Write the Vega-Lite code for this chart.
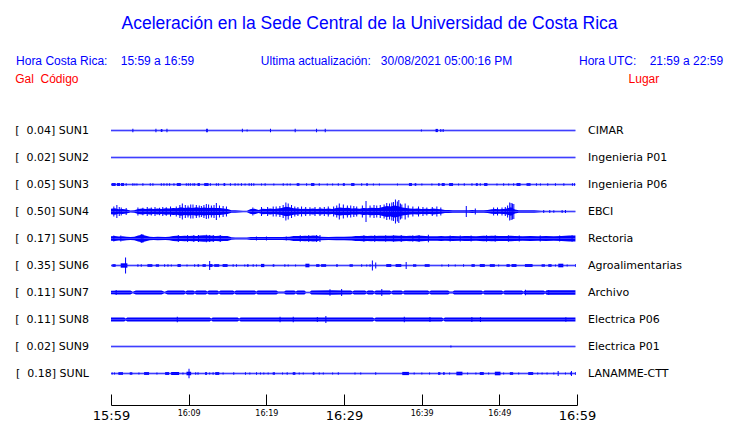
{
"$schema": "https://vega.github.io/schema/vega-lite/v6.json",
"background": "white",
"padding": {"left": 15, "top": 14, "right": 5, "bottom": 2},
"title": {
  "text": "Aceleración en la Sede Central de la Universidad de Costa Rica",
  "subtitle": "Hora Costa Rica:\u00a0\u00a0\u00a0\u00a015:59 a 16:59\u00a0\u00a0\u00a0\u00a0\u00a0\u00a0\u00a0\u00a0\u00a0\u00a0\u00a0\u00a0\u00a0\u00a0\u00a0\u00a0\u00a0\u00a0\u00a0\u00a0Ultima actualización:\u00a0\u00a0\u00a030/08/2021 05:00:16 PM\u00a0\u00a0\u00a0\u00a0\u00a0\u00a0\u00a0\u00a0\u00a0\u00a0\u00a0\u00a0\u00a0\u00a0\u00a0\u00a0\u00a0\u00a0\u00a0\u00a0Hora UTC:\u00a0\u00a0\u00a0\u00a021:59 a 22:59",
  "font": "Liberation Sans", "fontSize": 17.5, "fontWeight": "normal", "color": "#0000ff",
  "subtitleFont": "Liberation Sans", "subtitleFontSize": 12, "subtitleColor": "#0000ff",
  "subtitlePadding": 24, "anchor": "middle", "offset": 6, "dx": 21
},
"data": {"values": [
{"k":"n","s":"SUN1","l":"CIMAR"},{"k":"n","s":"SUN2","l":"Ingenieria P01"},{"k":"n","s":"SUN3","l":"Ingenieria P06"},{"k":"n","s":"SUN4","l":"EBCI"},{"k":"n","s":"SUN5","l":"Rectoria"},{"k":"n","s":"SUN6","l":"Agroalimentarias"},{"k":"n","s":"SUN7","l":"Archivo"},{"k":"n","s":"SUN8","l":"Electrica P06"},{"k":"n","s":"SUN9","l":"Electrica P01"},{"k":"n","s":"SUNL","l":"LANAMME-CTT"},
{"k":"e","s":"SUN1","t":0,"a":0.7},{"k":"e","s":"SUN1","t":59.8,"a":0.7},
{"k":"e","s":"SUN2","t":0,"a":0.7},{"k":"e","s":"SUN2","t":59.8,"a":0.7},
{"k":"e","s":"SUN3","t":0,"a":0.7},{"k":"e","s":"SUN3","t":59.8,"a":0.7},
{"k":"e","s":"SUN6","t":0,"a":0.7},{"k":"e","s":"SUN6","t":59.8,"a":0.7},
{"k":"e","s":"SUN9","t":0,"a":0.7},{"k":"e","s":"SUN9","t":59.8,"a":0.7},
{"k":"e","s":"SUNL","t":0,"a":0.7},{"k":"e","s":"SUNL","t":59.8,"a":0.7},
{"k":"e","s":"SUN4","t":0,"a":2.8},{"k":"e","s":"SUN4","t":0.5,"a":3.2},{"k":"e","s":"SUN4","t":1,"a":2.2},{"k":"e","s":"SUN4","t":1.5,"a":2.6},{"k":"e","s":"SUN4","t":2,"a":2.0},{"k":"e","s":"SUN4","t":2.5,"a":1.0},{"k":"e","s":"SUN4","t":3,"a":1.2},{"k":"e","s":"SUN4","t":3.5,"a":2.6},{"k":"e","s":"SUN4","t":4,"a":3.0},{"k":"e","s":"SUN4","t":4.5,"a":2.4},{"k":"e","s":"SUN4","t":5,"a":3.0},{"k":"e","s":"SUN4","t":5.5,"a":2.6},{"k":"e","s":"SUN4","t":6,"a":3.1},{"k":"e","s":"SUN4","t":6.5,"a":2.5},{"k":"e","s":"SUN4","t":7,"a":3.2},{"k":"e","s":"SUN4","t":7.5,"a":3.0},{"k":"e","s":"SUN4","t":8,"a":3.6},{"k":"e","s":"SUN4","t":8.5,"a":3.2},{"k":"e","s":"SUN4","t":9,"a":4.2},{"k":"e","s":"SUN4","t":9.5,"a":3.5},{"k":"e","s":"SUN4","t":10,"a":4.0},{"k":"e","s":"SUN4","t":10.5,"a":3.6},{"k":"e","s":"SUN4","t":11,"a":4.2},{"k":"e","s":"SUN4","t":11.5,"a":3.4},{"k":"e","s":"SUN4","t":12,"a":4.0},{"k":"e","s":"SUN4","t":12.5,"a":3.5},{"k":"e","s":"SUN4","t":13,"a":3.8},{"k":"e","s":"SUN4","t":13.5,"a":3.4},{"k":"e","s":"SUN4","t":14,"a":3.6},{"k":"e","s":"SUN4","t":14.5,"a":3.0},{"k":"e","s":"SUN4","t":15,"a":2.6},{"k":"e","s":"SUN4","t":15.5,"a":1.3},{"k":"e","s":"SUN4","t":16,"a":1.2},{"k":"e","s":"SUN4","t":16.5,"a":1.0},{"k":"e","s":"SUN4","t":17,"a":0.8},{"k":"e","s":"SUN4","t":17.5,"a":0.8},{"k":"e","s":"SUN4","t":18,"a":2.6},{"k":"e","s":"SUN4","t":18.5,"a":2.8},{"k":"e","s":"SUN4","t":19,"a":1.6},{"k":"e","s":"SUN4","t":19.5,"a":2.8},{"k":"e","s":"SUN4","t":20,"a":2.4},{"k":"e","s":"SUN4","t":20.5,"a":3.0},{"k":"e","s":"SUN4","t":21,"a":2.6},{"k":"e","s":"SUN4","t":21.5,"a":3.0},{"k":"e","s":"SUN4","t":22,"a":3.6},{"k":"e","s":"SUN4","t":22.5,"a":4.8},{"k":"e","s":"SUN4","t":23,"a":4.2},{"k":"e","s":"SUN4","t":23.5,"a":3.2},{"k":"e","s":"SUN4","t":24,"a":3.0},{"k":"e","s":"SUN4","t":24.5,"a":2.6},{"k":"e","s":"SUN4","t":25,"a":2.8},{"k":"e","s":"SUN4","t":25.5,"a":2.4},{"k":"e","s":"SUN4","t":26,"a":3.0},{"k":"e","s":"SUN4","t":26.5,"a":2.6},{"k":"e","s":"SUN4","t":27,"a":3.0},{"k":"e","s":"SUN4","t":27.5,"a":2.5},{"k":"e","s":"SUN4","t":28,"a":3.0},{"k":"e","s":"SUN4","t":28.5,"a":2.6},{"k":"e","s":"SUN4","t":29,"a":3.4},{"k":"e","s":"SUN4","t":29.5,"a":4.0},{"k":"e","s":"SUN4","t":30,"a":3.6},{"k":"e","s":"SUN4","t":30.5,"a":3.8},{"k":"e","s":"SUN4","t":31,"a":3.0},{"k":"e","s":"SUN4","t":31.5,"a":3.2},{"k":"e","s":"SUN4","t":32,"a":2.8},{"k":"e","s":"SUN4","t":32.5,"a":3.6},{"k":"e","s":"SUN4","t":33,"a":3.2},{"k":"e","s":"SUN4","t":33.5,"a":3.8},{"k":"e","s":"SUN4","t":34,"a":3.4},{"k":"e","s":"SUN4","t":34.5,"a":3.6},{"k":"e","s":"SUN4","t":35,"a":4.4},{"k":"e","s":"SUN4","t":35.5,"a":5.4},{"k":"e","s":"SUN4","t":36,"a":5.0},{"k":"e","s":"SUN4","t":36.5,"a":6.0},{"k":"e","s":"SUN4","t":37,"a":5.2},{"k":"e","s":"SUN4","t":37.5,"a":4.0},{"k":"e","s":"SUN4","t":38,"a":3.6},{"k":"e","s":"SUN4","t":38.5,"a":3.0},{"k":"e","s":"SUN4","t":39,"a":2.8},{"k":"e","s":"SUN4","t":39.5,"a":3.0},{"k":"e","s":"SUN4","t":40,"a":2.6},{"k":"e","s":"SUN4","t":40.5,"a":2.8},{"k":"e","s":"SUN4","t":41,"a":2.6},{"k":"e","s":"SUN4","t":41.5,"a":3.0},{"k":"e","s":"SUN4","t":42,"a":2.6},{"k":"e","s":"SUN4","t":42.5,"a":2.2},{"k":"e","s":"SUN4","t":43,"a":1.6},{"k":"e","s":"SUN4","t":43.5,"a":1.4},{"k":"e","s":"SUN4","t":44,"a":1.2},{"k":"e","s":"SUN4","t":44.5,"a":1.2},{"k":"e","s":"SUN4","t":45,"a":1.3},{"k":"e","s":"SUN4","t":45.5,"a":1.3},{"k":"e","s":"SUN4","t":46,"a":1.2},{"k":"e","s":"SUN4","t":46.5,"a":1.4},{"k":"e","s":"SUN4","t":47,"a":1.2},{"k":"e","s":"SUN4","t":47.5,"a":1.3},{"k":"e","s":"SUN4","t":48,"a":1.2},{"k":"e","s":"SUN4","t":48.5,"a":1.6},{"k":"e","s":"SUN4","t":49,"a":2.2},{"k":"e","s":"SUN4","t":49.5,"a":2.4},{"k":"e","s":"SUN4","t":50,"a":2.2},{"k":"e","s":"SUN4","t":50.5,"a":2.6},{"k":"e","s":"SUN4","t":51,"a":3.0},{"k":"e","s":"SUN4","t":51.5,"a":4.2},{"k":"e","s":"SUN4","t":52,"a":2.0},{"k":"e","s":"SUN4","t":52.5,"a":1.3},{"k":"e","s":"SUN4","t":53,"a":1.2},{"k":"e","s":"SUN4","t":53.5,"a":1.3},{"k":"e","s":"SUN4","t":54,"a":1.2},{"k":"e","s":"SUN4","t":54.5,"a":1.2},{"k":"e","s":"SUN4","t":55,"a":1.0},{"k":"e","s":"SUN4","t":55.5,"a":0.8},{"k":"e","s":"SUN4","t":57,"a":0.8},{"k":"e","s":"SUN4","t":59.8,"a":0.8},
{"k":"e","s":"SUN5","t":0,"a":2.2},{"k":"e","s":"SUN5","t":0.5,"a":2.4},{"k":"e","s":"SUN5","t":1,"a":2.0},{"k":"e","s":"SUN5","t":1.5,"a":2.2},{"k":"e","s":"SUN5","t":2,"a":1.8},{"k":"e","s":"SUN5","t":2.5,"a":1.6},{"k":"e","s":"SUN5","t":3,"a":1.8},{"k":"e","s":"SUN5","t":3.5,"a":3.0},{"k":"e","s":"SUN5","t":4,"a":3.8},{"k":"e","s":"SUN5","t":4.5,"a":2.8},{"k":"e","s":"SUN5","t":5,"a":1.8},{"k":"e","s":"SUN5","t":5.5,"a":1.6},{"k":"e","s":"SUN5","t":6,"a":1.7},{"k":"e","s":"SUN5","t":7,"a":1.6},{"k":"e","s":"SUN5","t":7.5,"a":1.8},{"k":"e","s":"SUN5","t":8,"a":2.4},{"k":"e","s":"SUN5","t":8.5,"a":2.8},{"k":"e","s":"SUN5","t":9,"a":2.6},{"k":"e","s":"SUN5","t":9.5,"a":2.8},{"k":"e","s":"SUN5","t":10,"a":2.6},{"k":"e","s":"SUN5","t":10.5,"a":2.8},{"k":"e","s":"SUN5","t":11,"a":2.6},{"k":"e","s":"SUN5","t":11.5,"a":3.0},{"k":"e","s":"SUN5","t":12,"a":3.2},{"k":"e","s":"SUN5","t":12.5,"a":3.0},{"k":"e","s":"SUN5","t":13,"a":2.8},{"k":"e","s":"SUN5","t":13.5,"a":2.6},{"k":"e","s":"SUN5","t":14,"a":2.8},{"k":"e","s":"SUN5","t":14.5,"a":2.6},{"k":"e","s":"SUN5","t":15,"a":2.4},{"k":"e","s":"SUN5","t":15.5,"a":1.3},{"k":"e","s":"SUN5","t":16,"a":0.9},{"k":"e","s":"SUN5","t":17,"a":0.9},{"k":"e","s":"SUN5","t":17.5,"a":1.0},{"k":"e","s":"SUN5","t":18,"a":1.4},{"k":"e","s":"SUN5","t":18.5,"a":1.4},{"k":"e","s":"SUN5","t":19,"a":1.6},{"k":"e","s":"SUN5","t":20,"a":1.5},{"k":"e","s":"SUN5","t":21,"a":1.6},{"k":"e","s":"SUN5","t":22,"a":1.5},{"k":"e","s":"SUN5","t":23,"a":1.8},{"k":"e","s":"SUN5","t":23.5,"a":2.4},{"k":"e","s":"SUN5","t":24,"a":2.6},{"k":"e","s":"SUN5","t":24.5,"a":2.4},{"k":"e","s":"SUN5","t":25,"a":2.8},{"k":"e","s":"SUN5","t":25.5,"a":2.6},{"k":"e","s":"SUN5","t":26,"a":3.0},{"k":"e","s":"SUN5","t":26.5,"a":2.8},{"k":"e","s":"SUN5","t":27,"a":1.7},{"k":"e","s":"SUN5","t":28,"a":1.6},{"k":"e","s":"SUN5","t":29,"a":1.7},{"k":"e","s":"SUN5","t":30,"a":1.8},{"k":"e","s":"SUN5","t":31,"a":2.0},{"k":"e","s":"SUN5","t":31.5,"a":2.4},{"k":"e","s":"SUN5","t":32,"a":2.6},{"k":"e","s":"SUN5","t":32.5,"a":2.8},{"k":"e","s":"SUN5","t":33,"a":2.6},{"k":"e","s":"SUN5","t":33.5,"a":2.8},{"k":"e","s":"SUN5","t":34,"a":2.6},{"k":"e","s":"SUN5","t":34.5,"a":2.8},{"k":"e","s":"SUN5","t":35,"a":2.7},{"k":"e","s":"SUN5","t":36,"a":2.8},{"k":"e","s":"SUN5","t":36.5,"a":3.0},{"k":"e","s":"SUN5","t":37,"a":2.8},{"k":"e","s":"SUN5","t":37.5,"a":2.8},{"k":"e","s":"SUN5","t":38,"a":2.6},{"k":"e","s":"SUN5","t":38.5,"a":2.8},{"k":"e","s":"SUN5","t":39,"a":2.6},{"k":"e","s":"SUN5","t":39.5,"a":3.0},{"k":"e","s":"SUN5","t":40,"a":2.8},{"k":"e","s":"SUN5","t":40.5,"a":2.4},{"k":"e","s":"SUN5","t":41,"a":2.2},{"k":"e","s":"SUN5","t":42,"a":2.2},{"k":"e","s":"SUN5","t":42.5,"a":2.6},{"k":"e","s":"SUN5","t":43,"a":2.2},{"k":"e","s":"SUN5","t":44,"a":2.4},{"k":"e","s":"SUN5","t":45,"a":2.2},{"k":"e","s":"SUN5","t":45.5,"a":2.6},{"k":"e","s":"SUN5","t":46,"a":2.4},{"k":"e","s":"SUN5","t":47,"a":2.2},{"k":"e","s":"SUN5","t":48,"a":2.8},{"k":"e","s":"SUN5","t":48.5,"a":2.6},{"k":"e","s":"SUN5","t":49,"a":2.8},{"k":"e","s":"SUN5","t":50,"a":2.4},{"k":"e","s":"SUN5","t":51,"a":2.6},{"k":"e","s":"SUN5","t":51.5,"a":2.8},{"k":"e","s":"SUN5","t":52,"a":2.4},{"k":"e","s":"SUN5","t":53,"a":2.2},{"k":"e","s":"SUN5","t":54,"a":2.4},{"k":"e","s":"SUN5","t":55,"a":2.2},{"k":"e","s":"SUN5","t":56,"a":2.4},{"k":"e","s":"SUN5","t":57,"a":2.2},{"k":"e","s":"SUN5","t":58,"a":2.4},{"k":"e","s":"SUN5","t":59,"a":3.0},{"k":"e","s":"SUN5","t":59.8,"a":3.0},
{"k":"e","s":"SUN7","t":0,"a":1.8},{"k":"e","s":"SUN7","t":1,"a":2.0},{"k":"e","s":"SUN7","t":2.5,"a":1.9},{"k":"e","s":"SUN7","t":2.8,"a":0.8},{"k":"e","s":"SUN7","t":3.2,"a":1.9},{"k":"e","s":"SUN7","t":6.5,"a":2.0},{"k":"e","s":"SUN7","t":6.9,"a":0.8},{"k":"e","s":"SUN7","t":7.3,"a":2.0},{"k":"e","s":"SUN7","t":9.4,"a":1.9},{"k":"e","s":"SUN7","t":9.6,"a":0.9},{"k":"e","s":"SUN7","t":9.8,"a":2.0},{"k":"e","s":"SUN7","t":10.6,"a":2.0},{"k":"e","s":"SUN7","t":10.8,"a":0.9},{"k":"e","s":"SUN7","t":11.0,"a":2.0},{"k":"e","s":"SUN7","t":12.2,"a":2.0},{"k":"e","s":"SUN7","t":12.4,"a":0.9},{"k":"e","s":"SUN7","t":12.6,"a":2.0},{"k":"e","s":"SUN7","t":13.7,"a":2.0},{"k":"e","s":"SUN7","t":13.9,"a":0.9},{"k":"e","s":"SUN7","t":14.1,"a":2.0},{"k":"e","s":"SUN7","t":15.7,"a":2.0},{"k":"e","s":"SUN7","t":15.9,"a":0.9},{"k":"e","s":"SUN7","t":16.1,"a":2.0},{"k":"e","s":"SUN7","t":18.5,"a":2.0},{"k":"e","s":"SUN7","t":18.7,"a":0.9},{"k":"e","s":"SUN7","t":18.9,"a":2.0},{"k":"e","s":"SUN7","t":21.3,"a":2.0},{"k":"e","s":"SUN7","t":21.5,"a":0.9},{"k":"e","s":"SUN7","t":22.3,"a":0.9},{"k":"e","s":"SUN7","t":22.5,"a":2.0},{"k":"e","s":"SUN7","t":23.6,"a":2.0},{"k":"e","s":"SUN7","t":23.8,"a":0.9},{"k":"e","s":"SUN7","t":24.0,"a":2.0},{"k":"e","s":"SUN7","t":24.9,"a":1.9},{"k":"e","s":"SUN7","t":25.1,"a":0.8},{"k":"e","s":"SUN7","t":25.6,"a":0.8},{"k":"e","s":"SUN7","t":25.8,"a":2.1},{"k":"e","s":"SUN7","t":28.5,"a":2.2},{"k":"e","s":"SUN7","t":30,"a":2.1},{"k":"e","s":"SUN7","t":30.9,"a":2.0},{"k":"e","s":"SUN7","t":31.1,"a":0.9},{"k":"e","s":"SUN7","t":31.3,"a":2.0},{"k":"e","s":"SUN7","t":32.7,"a":2.0},{"k":"e","s":"SUN7","t":32.9,"a":0.9},{"k":"e","s":"SUN7","t":33.1,"a":2.1},{"k":"e","s":"SUN7","t":33.7,"a":2.1},{"k":"e","s":"SUN7","t":33.9,"a":0.9},{"k":"e","s":"SUN7","t":34.1,"a":2.1},{"k":"e","s":"SUN7","t":35.9,"a":2.1},{"k":"e","s":"SUN7","t":36.1,"a":0.9},{"k":"e","s":"SUN7","t":36.3,"a":2.0},{"k":"e","s":"SUN7","t":37.4,"a":2.0},{"k":"e","s":"SUN7","t":37.6,"a":0.9},{"k":"e","s":"SUN7","t":37.8,"a":2.0},{"k":"e","s":"SUN7","t":40.8,"a":2.0},{"k":"e","s":"SUN7","t":41.0,"a":0.9},{"k":"e","s":"SUN7","t":41.2,"a":2.0},{"k":"e","s":"SUN7","t":43.4,"a":2.0},{"k":"e","s":"SUN7","t":43.6,"a":0.9},{"k":"e","s":"SUN7","t":44.0,"a":0.9},{"k":"e","s":"SUN7","t":44.2,"a":2.0},{"k":"e","s":"SUN7","t":47.7,"a":2.0},{"k":"e","s":"SUN7","t":47.9,"a":0.9},{"k":"e","s":"SUN7","t":48.1,"a":2.0},{"k":"e","s":"SUN7","t":50.3,"a":2.0},{"k":"e","s":"SUN7","t":50.5,"a":0.9},{"k":"e","s":"SUN7","t":50.7,"a":2.0},{"k":"e","s":"SUN7","t":52.9,"a":2.1},{"k":"e","s":"SUN7","t":53.1,"a":0.9},{"k":"e","s":"SUN7","t":53.3,"a":2.1},{"k":"e","s":"SUN7","t":55.7,"a":2.1},{"k":"e","s":"SUN7","t":55.9,"a":0.9},{"k":"e","s":"SUN7","t":56.1,"a":2.2},{"k":"e","s":"SUN7","t":59.8,"a":2.2},
{"k":"e","s":"SUN8","t":0,"a":2.1},{"k":"e","s":"SUN8","t":1.7,"a":2.1},{"k":"e","s":"SUN8","t":1.9,"a":0.9},{"k":"e","s":"SUN8","t":2.1,"a":2.1},{"k":"e","s":"SUN8","t":12.7,"a":2.1},{"k":"e","s":"SUN8","t":12.9,"a":0.9},{"k":"e","s":"SUN8","t":13.1,"a":2.1},{"k":"e","s":"SUN8","t":16.3,"a":2.1},{"k":"e","s":"SUN8","t":16.5,"a":0.9},{"k":"e","s":"SUN8","t":16.7,"a":2.1},{"k":"e","s":"SUN8","t":33.7,"a":2.1},{"k":"e","s":"SUN8","t":33.9,"a":0.9},{"k":"e","s":"SUN8","t":34.1,"a":2.1},{"k":"e","s":"SUN8","t":42.6,"a":2.1},{"k":"e","s":"SUN8","t":42.8,"a":0.9},{"k":"e","s":"SUN8","t":43.0,"a":2.1},{"k":"e","s":"SUN8","t":59.8,"a":2.1},
{"k":"b","s":"SUN1","t":2.75,"t2":2.88,"a":1.8},{"k":"b","s":"SUN1","t":5.72,"t2":5.85,"a":1.8},{"k":"b","s":"SUN1","t":6.41,"t2":6.62,"a":1.4},{"k":"b","s":"SUN1","t":7.14,"t2":7.27,"a":1.8},{"k":"b","s":"SUN1","t":12.25,"t2":12.47,"a":1.8},{"k":"b","s":"SUN1","t":16.85,"t2":16.98,"a":1.8},{"k":"b","s":"SUN1","t":17.46,"t2":17.59,"a":1.1},{"k":"b","s":"SUN1","t":20.47,"t2":20.6,"a":1.8},{"k":"b","s":"SUN1","t":23.65,"t2":23.78,"a":1.8},{"k":"b","s":"SUN1","t":26.4,"t2":26.53,"a":1.8},{"k":"b","s":"SUN1","t":27.52,"t2":27.65,"a":1.8},{"k":"b","s":"SUN1","t":39.9,"t2":40.03,"a":1.1},{"k":"b","s":"SUN1","t":41.79,"t2":42.09,"a":1.6},{"k":"b","s":"SUN1","t":42.4,"t2":42.53,"a":1.6},{"k":"b","s":"SUN1","t":42.7,"t2":42.83,"a":1.6},
{"k":"b","s":"SUN9","t":43.7,"t2":43.83,"a":1.1},
{"k":"b","s":"SUN3","t":0.09,"t2":0.6,"a":1.4},{"k":"b","s":"SUN3","t":0.77,"t2":1.16,"a":1.4},{"k":"b","s":"SUN3","t":1.29,"t2":1.68,"a":1.4},{"k":"b","s":"SUN3","t":1.89,"t2":2.02,"a":1.2},{"k":"b","s":"SUN3","t":2.75,"t2":2.88,"a":1.2},{"k":"b","s":"SUN3","t":3.01,"t2":3.14,"a":1.0},{"k":"b","s":"SUN3","t":3.27,"t2":3.4,"a":1.0},{"k":"b","s":"SUN3","t":4.04,"t2":4.17,"a":1.2},{"k":"b","s":"SUN3","t":4.99,"t2":5.12,"a":1.2},{"k":"b","s":"SUN3","t":5.33,"t2":5.46,"a":1.2},{"k":"b","s":"SUN3","t":6.41,"t2":6.54,"a":1.2},{"k":"b","s":"SUN3","t":6.75,"t2":6.88,"a":1.2},{"k":"b","s":"SUN3","t":7.14,"t2":7.27,"a":1.2},{"k":"b","s":"SUN3","t":7.48,"t2":7.61,"a":1.2},{"k":"b","s":"SUN3","t":8.04,"t2":8.17,"a":1.2},{"k":"b","s":"SUN3","t":8.47,"t2":8.99,"a":1.4},{"k":"b","s":"SUN3","t":9.63,"t2":9.76,"a":1.2},{"k":"b","s":"SUN3","t":9.89,"t2":10.02,"a":1.2},{"k":"b","s":"SUN3","t":10.15,"t2":10.28,"a":1.2},{"k":"b","s":"SUN3","t":10.49,"t2":10.62,"a":1.2},{"k":"b","s":"SUN3","t":10.71,"t2":10.84,"a":1.3},{"k":"b","s":"SUN3","t":11.14,"t2":11.44,"a":1.4},{"k":"b","s":"SUN3","t":12.0,"t2":12.56,"a":1.4},{"k":"b","s":"SUN3","t":12.73,"t2":12.86,"a":1.2},{"k":"b","s":"SUN3","t":13.5,"t2":13.63,"a":1.2},{"k":"b","s":"SUN3","t":13.76,"t2":13.89,"a":1.2},{"k":"b","s":"SUN3","t":14.49,"t2":14.71,"a":1.4},{"k":"b","s":"SUN3","t":15.31,"t2":15.44,"a":1.2},{"k":"b","s":"SUN3","t":15.91,"t2":16.04,"a":1.2},{"k":"b","s":"SUN3","t":16.3,"t2":16.43,"a":1.0},{"k":"b","s":"SUN3","t":16.73,"t2":16.86,"a":1.2},{"k":"b","s":"SUN3","t":17.2,"t2":17.33,"a":1.0},{"k":"b","s":"SUN3","t":17.72,"t2":17.85,"a":1.2},{"k":"b","s":"SUN3","t":18.02,"t2":18.15,"a":1.2},{"k":"b","s":"SUN3","t":18.32,"t2":18.45,"a":1.2},{"k":"b","s":"SUN3","t":19.31,"t2":19.44,"a":1.0},{"k":"b","s":"SUN3","t":19.78,"t2":19.91,"a":1.2},{"k":"b","s":"SUN3","t":20.9,"t2":21.03,"a":1.0},{"k":"b","s":"SUN3","t":22.11,"t2":22.24,"a":1.2},{"k":"b","s":"SUN3","t":22.62,"t2":22.75,"a":1.0},{"k":"b","s":"SUN3","t":23.01,"t2":23.14,"a":1.0},{"k":"b","s":"SUN3","t":23.91,"t2":24.26,"a":1.3},{"k":"b","s":"SUN3","t":25.12,"t2":25.25,"a":1.2},{"k":"b","s":"SUN3","t":25.76,"t2":26.19,"a":1.4},{"k":"b","s":"SUN3","t":26.75,"t2":26.88,"a":1.2},{"k":"b","s":"SUN3","t":27.78,"t2":27.91,"a":1.0},{"k":"b","s":"SUN3","t":28.47,"t2":28.6,"a":1.0},{"k":"b","s":"SUN3","t":29.2,"t2":29.33,"a":1.2},{"k":"b","s":"SUN3","t":29.85,"t2":30.11,"a":1.3},{"k":"b","s":"SUN3","t":30.92,"t2":31.35,"a":1.4},{"k":"b","s":"SUN3","t":32.21,"t2":32.34,"a":1.2},{"k":"b","s":"SUN3","t":32.86,"t2":33.07,"a":1.2},{"k":"b","s":"SUN3","t":33.72,"t2":33.85,"a":1.0},{"k":"b","s":"SUN3","t":34.49,"t2":34.62,"a":1.0},{"k":"b","s":"SUN3","t":36.82,"t2":36.95,"a":1.0},{"k":"b","s":"SUN3","t":38.36,"t2":38.75,"a":1.4},{"k":"b","s":"SUN3","t":39.1,"t2":39.31,"a":1.3},{"k":"b","s":"SUN3","t":39.96,"t2":40.09,"a":1.0},{"k":"b","s":"SUN3","t":41.25,"t2":41.38,"a":1.0},{"k":"b","s":"SUN3","t":42.11,"t2":42.32,"a":1.3},{"k":"b","s":"SUN3","t":42.58,"t2":42.97,"a":1.4},{"k":"b","s":"SUN3","t":43.53,"t2":44.04,"a":1.4},{"k":"b","s":"SUN3","t":44.69,"t2":44.82,"a":1.0},{"k":"b","s":"SUN3","t":45.42,"t2":45.55,"a":1.2},{"k":"b","s":"SUN3","t":46.41,"t2":46.54,"a":1.2},{"k":"b","s":"SUN3","t":46.97,"t2":47.23,"a":1.3},{"k":"b","s":"SUN3","t":47.48,"t2":47.61,"a":1.2},{"k":"b","s":"SUN3","t":48.04,"t2":48.47,"a":1.4},{"k":"b","s":"SUN3","t":49.63,"t2":49.76,"a":1.0},{"k":"b","s":"SUN3","t":50.49,"t2":50.62,"a":1.2},{"k":"b","s":"SUN3","t":51.14,"t2":51.27,"a":1.0},{"k":"b","s":"SUN3","t":51.78,"t2":51.91,"a":1.2},{"k":"b","s":"SUN3","t":52.21,"t2":52.73,"a":1.4},{"k":"b","s":"SUN3","t":53.5,"t2":54.02,"a":1.3},{"k":"b","s":"SUN3","t":54.71,"t2":54.84,"a":1.2},{"k":"b","s":"SUN3","t":55.23,"t2":55.36,"a":1.0},{"k":"b","s":"SUN3","t":56.17,"t2":56.3,"a":1.2},{"k":"b","s":"SUN3","t":57.16,"t2":57.29,"a":1.2},{"k":"b","s":"SUN3","t":58.24,"t2":58.37,"a":1.2},{"k":"b","s":"SUN3","t":59.35,"t2":59.48,"a":1.3},{"k":"b","s":"SUN3","t":59.61,"t2":59.74,"a":1.3},
{"k":"b","s":"SUN4","t":0.3,"t2":0.43,"a":5},{"k":"b","s":"SUN4","t":0.69,"t2":0.82,"a":6.5},{"k":"b","s":"SUN4","t":1.0,"t2":1.13,"a":4.5},{"k":"b","s":"SUN4","t":1.25,"t2":1.38,"a":4},{"k":"b","s":"SUN4","t":1.89,"t2":2.02,"a":3.5},{"k":"b","s":"SUN4","t":3.4,"t2":3.53,"a":4},{"k":"b","s":"SUN4","t":4.04,"t2":4.17,"a":3.8},{"k":"b","s":"SUN4","t":4.6,"t2":4.73,"a":4.5},{"k":"b","s":"SUN4","t":5.12,"t2":5.25,"a":4},{"k":"b","s":"SUN4","t":5.6,"t2":5.73,"a":4.5},{"k":"b","s":"SUN4","t":6.19,"t2":6.32,"a":3.8},{"k":"b","s":"SUN4","t":6.6,"t2":6.73,"a":4.6},{"k":"b","s":"SUN4","t":7.05,"t2":7.18,"a":4.2},{"k":"b","s":"SUN4","t":7.6,"t2":7.73,"a":5},{"k":"b","s":"SUN4","t":8.34,"t2":8.47,"a":5},{"k":"b","s":"SUN4","t":8.8,"t2":8.93,"a":6.5},{"k":"b","s":"SUN4","t":9.12,"t2":9.25,"a":8},{"k":"b","s":"SUN4","t":9.5,"t2":9.63,"a":6.5},{"k":"b","s":"SUN4","t":9.85,"t2":9.98,"a":6},{"k":"b","s":"SUN4","t":10.2,"t2":10.33,"a":7},{"k":"b","s":"SUN4","t":10.49,"t2":10.62,"a":7},{"k":"b","s":"SUN4","t":10.92,"t2":11.05,"a":6.5},{"k":"b","s":"SUN4","t":11.3,"t2":11.43,"a":6},{"k":"b","s":"SUN4","t":11.57,"t2":11.7,"a":5.5},{"k":"b","s":"SUN4","t":11.9,"t2":12.03,"a":6.5},{"k":"b","s":"SUN4","t":12.21,"t2":12.34,"a":7.5},{"k":"b","s":"SUN4","t":12.5,"t2":12.63,"a":7},{"k":"b","s":"SUN4","t":12.86,"t2":12.99,"a":6},{"k":"b","s":"SUN4","t":13.2,"t2":13.33,"a":6.5},{"k":"b","s":"SUN4","t":13.5,"t2":13.63,"a":8.5},{"k":"b","s":"SUN4","t":13.9,"t2":14.03,"a":6},{"k":"b","s":"SUN4","t":14.37,"t2":14.5,"a":5.5},{"k":"b","s":"SUN4","t":14.8,"t2":14.93,"a":5},{"k":"b","s":"SUN4","t":18.2,"t2":18.33,"a":4},{"k":"b","s":"SUN4","t":19.31,"t2":19.44,"a":4.5},{"k":"b","s":"SUN4","t":20.1,"t2":20.23,"a":4.5},{"k":"b","s":"SUN4","t":20.82,"t2":20.95,"a":5},{"k":"b","s":"SUN4","t":21.2,"t2":21.33,"a":5},{"k":"b","s":"SUN4","t":21.68,"t2":21.81,"a":5.5},{"k":"b","s":"SUN4","t":22.1,"t2":22.23,"a":6.5},{"k":"b","s":"SUN4","t":22.45,"t2":22.58,"a":9},{"k":"b","s":"SUN4","t":22.75,"t2":22.88,"a":8},{"k":"b","s":"SUN4","t":23.18,"t2":23.31,"a":6.5},{"k":"b","s":"SUN4","t":23.6,"t2":23.73,"a":5},{"k":"b","s":"SUN4","t":24.0,"t2":24.13,"a":4.5},{"k":"b","s":"SUN4","t":24.47,"t2":24.6,"a":5},{"k":"b","s":"SUN4","t":25.0,"t2":25.13,"a":4.5},{"k":"b","s":"SUN4","t":25.55,"t2":25.68,"a":4.2},{"k":"b","s":"SUN4","t":26.2,"t2":26.33,"a":4.5},{"k":"b","s":"SUN4","t":26.84,"t2":26.97,"a":4.5},{"k":"b","s":"SUN4","t":27.4,"t2":27.53,"a":4.5},{"k":"b","s":"SUN4","t":27.91,"t2":28.04,"a":5},{"k":"b","s":"SUN4","t":28.6,"t2":28.73,"a":5},{"k":"b","s":"SUN4","t":29.0,"t2":29.13,"a":6},{"k":"b","s":"SUN4","t":29.33,"t2":29.46,"a":8},{"k":"b","s":"SUN4","t":29.85,"t2":29.98,"a":7},{"k":"b","s":"SUN4","t":30.37,"t2":30.5,"a":6},{"k":"b","s":"SUN4","t":30.8,"t2":30.93,"a":6},{"k":"b","s":"SUN4","t":31.2,"t2":31.33,"a":5.5},{"k":"b","s":"SUN4","t":31.57,"t2":31.7,"a":5},{"k":"b","s":"SUN4","t":32.3,"t2":32.43,"a":6},{"k":"b","s":"SUN4","t":32.77,"t2":32.9,"a":10.5},{"k":"b","s":"SUN4","t":33.29,"t2":33.42,"a":6},{"k":"b","s":"SUN4","t":33.8,"t2":33.93,"a":6.5},{"k":"b","s":"SUN4","t":34.15,"t2":34.28,"a":6},{"k":"b","s":"SUN4","t":34.6,"t2":34.73,"a":6.5},{"k":"b","s":"SUN4","t":35.1,"t2":35.23,"a":7},{"k":"b","s":"SUN4","t":35.44,"t2":35.57,"a":8.5},{"k":"b","s":"SUN4","t":35.8,"t2":35.93,"a":8},{"k":"b","s":"SUN4","t":36.09,"t2":36.22,"a":9},{"k":"b","s":"SUN4","t":36.3,"t2":36.43,"a":9.5},{"k":"b","s":"SUN4","t":36.56,"t2":36.69,"a":12},{"k":"b","s":"SUN4","t":36.8,"t2":36.93,"a":10},{"k":"b","s":"SUN4","t":36.99,"t2":37.12,"a":11.5},{"k":"b","s":"SUN4","t":37.2,"t2":37.33,"a":8},{"k":"b","s":"SUN4","t":37.38,"t2":37.51,"a":7},{"k":"b","s":"SUN4","t":37.81,"t2":37.94,"a":8},{"k":"b","s":"SUN4","t":38.2,"t2":38.33,"a":6},{"k":"b","s":"SUN4","t":38.8,"t2":38.93,"a":5},{"k":"b","s":"SUN4","t":39.53,"t2":39.66,"a":5},{"k":"b","s":"SUN4","t":40.1,"t2":40.23,"a":4.5},{"k":"b","s":"SUN4","t":40.6,"t2":40.73,"a":4},{"k":"b","s":"SUN4","t":41.3,"t2":41.43,"a":4.5},{"k":"b","s":"SUN4","t":41.89,"t2":42.02,"a":5},{"k":"b","s":"SUN4","t":42.4,"t2":42.53,"a":4},{"k":"b","s":"SUN4","t":45.68,"t2":45.81,"a":5.5},{"k":"b","s":"SUN4","t":46.84,"t2":46.97,"a":3},{"k":"b","s":"SUN4","t":49.2,"t2":49.33,"a":4},{"k":"b","s":"SUN4","t":49.7,"t2":49.83,"a":4},{"k":"b","s":"SUN4","t":50.28,"t2":50.41,"a":4},{"k":"b","s":"SUN4","t":50.7,"t2":50.83,"a":4.5},{"k":"b","s":"SUN4","t":51.0,"t2":51.13,"a":6},{"k":"b","s":"SUN4","t":51.27,"t2":51.4,"a":9},{"k":"b","s":"SUN4","t":51.45,"t2":51.58,"a":8.5},{"k":"b","s":"SUN4","t":51.62,"t2":51.75,"a":8},{"k":"b","s":"SUN4","t":51.8,"t2":51.93,"a":7.5},{"k":"b","s":"SUN4","t":55.65,"t2":55.78,"a":1.5},{"k":"b","s":"SUN4","t":56.43,"t2":56.56,"a":1.5},{"k":"b","s":"SUN4","t":56.95,"t2":57.08,"a":1.2},{"k":"b","s":"SUN4","t":58.02,"t2":58.15,"a":1.5},{"k":"b","s":"SUN4","t":58.45,"t2":58.58,"a":1.5},
{"k":"b","s":"SUN5","t":0.3,"t2":0.43,"a":3},{"k":"b","s":"SUN5","t":1.2,"t2":1.33,"a":3},{"k":"b","s":"SUN5","t":3.83,"t2":3.96,"a":4.5},{"k":"b","s":"SUN5","t":4.04,"t2":4.17,"a":4.2},{"k":"b","s":"SUN5","t":8.6,"t2":8.73,"a":3.5},{"k":"b","s":"SUN5","t":9.8,"t2":9.93,"a":3.5},{"k":"b","s":"SUN5","t":10.6,"t2":10.73,"a":3.4},{"k":"b","s":"SUN5","t":11.2,"t2":11.33,"a":3.6},{"k":"b","s":"SUN5","t":12.21,"t2":12.34,"a":3.8},{"k":"b","s":"SUN5","t":12.64,"t2":12.77,"a":3.6},{"k":"b","s":"SUN5","t":13.1,"t2":13.23,"a":3.4},{"k":"b","s":"SUN5","t":14.0,"t2":14.13,"a":3.4},{"k":"b","s":"SUN5","t":18.66,"t2":18.79,"a":2.0},{"k":"b","s":"SUN5","t":19.95,"t2":20.08,"a":2.0},{"k":"b","s":"SUN5","t":22.5,"t2":22.63,"a":2.0},{"k":"b","s":"SUN5","t":24.3,"t2":24.43,"a":3.3},{"k":"b","s":"SUN5","t":25.4,"t2":25.53,"a":3.4},{"k":"b","s":"SUN5","t":26.41,"t2":26.54,"a":3.6},{"k":"b","s":"SUN5","t":26.84,"t2":26.97,"a":3.4},{"k":"b","s":"SUN5","t":32.5,"t2":32.63,"a":3.3},{"k":"b","s":"SUN5","t":33.9,"t2":34.03,"a":3.4},{"k":"b","s":"SUN5","t":35.3,"t2":35.43,"a":3.2},{"k":"b","s":"SUN5","t":36.3,"t2":36.43,"a":3.2},{"k":"b","s":"SUN5","t":37.3,"t2":37.43,"a":3.4},{"k":"b","s":"SUN5","t":38.8,"t2":38.93,"a":3.3},{"k":"b","s":"SUN5","t":39.6,"t2":39.73,"a":3.4},{"k":"b","s":"SUN5","t":40.8,"t2":40.93,"a":3.8},{"k":"b","s":"SUN5","t":43.6,"t2":43.73,"a":3.0},{"k":"b","s":"SUN5","t":44.9,"t2":45.03,"a":3.0},{"k":"b","s":"SUN5","t":46.3,"t2":46.43,"a":3.0},{"k":"b","s":"SUN5","t":48.3,"t2":48.43,"a":3.2},{"k":"b","s":"SUN5","t":49.4,"t2":49.53,"a":3.2},{"k":"b","s":"SUN5","t":51.1,"t2":51.23,"a":3.2},{"k":"b","s":"SUN5","t":52.5,"t2":52.63,"a":3.0},{"k":"b","s":"SUN5","t":55.2,"t2":55.33,"a":3.0},{"k":"b","s":"SUN5","t":57.7,"t2":57.83,"a":3.0},{"k":"b","s":"SUN5","t":59.3,"t2":59.43,"a":3.3},
{"k":"b","s":"SUN6","t":0.17,"t2":0.6,"a":1.3},{"k":"b","s":"SUN6","t":1.25,"t2":2.11,"a":2.2},{"k":"b","s":"SUN6","t":1.81,"t2":1.94,"a":8},{"k":"b","s":"SUN6","t":3.4,"t2":3.53,"a":1.2},{"k":"b","s":"SUN6","t":3.83,"t2":3.96,"a":1.2},{"k":"b","s":"SUN6","t":4.69,"t2":5.33,"a":1.3},{"k":"b","s":"SUN6","t":5.76,"t2":6.19,"a":1.2},{"k":"b","s":"SUN6","t":6.84,"t2":6.97,"a":1.2},{"k":"b","s":"SUN6","t":7.27,"t2":7.4,"a":1.2},{"k":"b","s":"SUN6","t":7.7,"t2":7.83,"a":1.0},{"k":"b","s":"SUN6","t":8.56,"t2":8.99,"a":1.4},{"k":"b","s":"SUN6","t":9.72,"t2":9.85,"a":1.0},{"k":"b","s":"SUN6","t":10.71,"t2":10.84,"a":1.2},{"k":"b","s":"SUN6","t":11.14,"t2":11.35,"a":1.2},{"k":"b","s":"SUN6","t":11.78,"t2":12.21,"a":1.3},{"k":"b","s":"SUN6","t":12.64,"t2":12.77,"a":4.5},{"k":"b","s":"SUN6","t":12.64,"t2":13.07,"a":1.4},{"k":"b","s":"SUN6","t":13.29,"t2":13.94,"a":1.3},{"k":"b","s":"SUN6","t":14.37,"t2":15.01,"a":1.4},{"k":"b","s":"SUN6","t":15.66,"t2":15.79,"a":1.2},{"k":"b","s":"SUN6","t":16.09,"t2":16.22,"a":1.2},{"k":"b","s":"SUN6","t":17.16,"t2":17.29,"a":1.0},{"k":"b","s":"SUN6","t":17.5,"t2":17.72,"a":1.2},{"k":"b","s":"SUN6","t":18.24,"t2":18.37,"a":1.2},{"k":"b","s":"SUN6","t":18.67,"t2":18.8,"a":1.0},{"k":"b","s":"SUN6","t":19.31,"t2":19.74,"a":1.6},{"k":"b","s":"SUN6","t":20.82,"t2":21.03,"a":1.2},{"k":"b","s":"SUN6","t":22.32,"t2":22.45,"a":1.2},{"k":"b","s":"SUN6","t":22.75,"t2":22.88,"a":1.0},{"k":"b","s":"SUN6","t":23.7,"t2":23.83,"a":1.0},{"k":"b","s":"SUN6","t":25.03,"t2":25.55,"a":1.8},{"k":"b","s":"SUN6","t":26.41,"t2":26.84,"a":1.3},{"k":"b","s":"SUN6","t":27.05,"t2":27.7,"a":1.3},{"k":"b","s":"SUN6","t":28.99,"t2":29.2,"a":1.2},{"k":"b","s":"SUN6","t":30.71,"t2":31.14,"a":1.2},{"k":"b","s":"SUN6","t":32.21,"t2":32.34,"a":1.2},{"k":"b","s":"SUN6","t":32.86,"t2":32.99,"a":1.0},{"k":"b","s":"SUN6","t":33.29,"t2":33.42,"a":1.2},{"k":"b","s":"SUN6","t":33.59,"t2":33.72,"a":5},{"k":"b","s":"SUN6","t":34.02,"t2":34.15,"a":3},{"k":"b","s":"SUN6","t":35.44,"t2":36.09,"a":1.4},{"k":"b","s":"SUN6","t":36.64,"t2":37.38,"a":1.4},{"k":"b","s":"SUN6","t":37.94,"t2":38.07,"a":3.5},{"k":"b","s":"SUN6","t":38.88,"t2":39.31,"a":1.2},{"k":"b","s":"SUN6","t":40.39,"t2":41.03,"a":1.3},{"k":"b","s":"SUN6","t":42.54,"t2":42.67,"a":1.0},{"k":"b","s":"SUN6","t":43.4,"t2":43.53,"a":1.2},{"k":"b","s":"SUN6","t":44.26,"t2":44.39,"a":1.0},{"k":"b","s":"SUN6","t":45.33,"t2":45.46,"a":1.2},{"k":"b","s":"SUN6","t":46.41,"t2":46.84,"a":1.3},{"k":"b","s":"SUN6","t":47.48,"t2":48.13,"a":1.4},{"k":"b","s":"SUN6","t":48.77,"t2":49.42,"a":1.3},{"k":"b","s":"SUN6","t":49.85,"t2":49.98,"a":1.0},{"k":"b","s":"SUN6","t":50.92,"t2":51.35,"a":1.3},{"k":"b","s":"SUN6","t":51.57,"t2":52.21,"a":1.4},{"k":"b","s":"SUN6","t":53.29,"t2":54.28,"a":1.4},{"k":"b","s":"SUN6","t":55.44,"t2":55.87,"a":1.2},{"k":"b","s":"SUN6","t":56.3,"t2":56.73,"a":1.3},{"k":"b","s":"SUN6","t":57.16,"t2":57.29,"a":1.0},{"k":"b","s":"SUN6","t":57.59,"t2":58.24,"a":1.8},{"k":"b","s":"SUN6","t":58.67,"t2":58.8,"a":1.0},{"k":"b","s":"SUN6","t":59.74,"t2":59.87,"a":1.3},
{"k":"b","s":"SUN7","t":0.6,"t2":0.73,"a":2.4},{"k":"b","s":"SUN7","t":28.13,"t2":28.26,"a":3.2},{"k":"b","s":"SUN7","t":29.63,"t2":29.76,"a":3.4},{"k":"b","s":"SUN7","t":34.8,"t2":34.93,"a":3.6},{"k":"b","s":"SUN7","t":53.3,"t2":53.43,"a":2.8},{"k":"b","s":"SUN7","t":56.3,"t2":56.43,"a":2.6},
{"k":"b","s":"SUN8","t":8.47,"t2":8.6,"a":2.8},{"k":"b","s":"SUN8","t":21.7,"t2":21.83,"a":2.8},{"k":"b","s":"SUN8","t":23.4,"t2":23.53,"a":2.8},{"k":"b","s":"SUN8","t":26.5,"t2":26.63,"a":2.5},{"k":"b","s":"SUN8","t":27.6,"t2":27.73,"a":3.4},{"k":"b","s":"SUN8","t":37.7,"t2":37.83,"a":2.8},{"k":"b","s":"SUN8","t":41.0,"t2":41.13,"a":2.5},{"k":"b","s":"SUN8","t":46.4,"t2":46.53,"a":2.6},{"k":"b","s":"SUN8","t":47.5,"t2":47.63,"a":2.6},{"k":"b","s":"SUN8","t":58.5,"t2":58.63,"a":2.3},
{"k":"b","s":"SUNL","t":0.09,"t2":0.22,"a":1.0},{"k":"b","s":"SUNL","t":0.39,"t2":0.52,"a":1.0},{"k":"b","s":"SUNL","t":0.95,"t2":1.55,"a":1.3},{"k":"b","s":"SUNL","t":2.41,"t2":2.75,"a":1.2},{"k":"b","s":"SUNL","t":3.53,"t2":3.66,"a":1.0},{"k":"b","s":"SUNL","t":4.26,"t2":4.9,"a":1.4},{"k":"b","s":"SUNL","t":5.85,"t2":5.98,"a":1.0},{"k":"b","s":"SUNL","t":6.97,"t2":7.48,"a":1.4},{"k":"b","s":"SUNL","t":7.74,"t2":8.77,"a":1.5},{"k":"b","s":"SUNL","t":9.2,"t2":9.33,"a":1.0},{"k":"b","s":"SUNL","t":9.72,"t2":10.32,"a":1.8},{"k":"b","s":"SUNL","t":9.98,"t2":10.11,"a":4.7},{"k":"b","s":"SUNL","t":10.84,"t2":10.97,"a":1.2},{"k":"b","s":"SUNL","t":11.14,"t2":11.27,"a":1.2},{"k":"b","s":"SUNL","t":12.13,"t2":12.34,"a":1.4},{"k":"b","s":"SUNL","t":12.64,"t2":12.77,"a":1.0},{"k":"b","s":"SUNL","t":13.08,"t2":13.21,"a":1.2},{"k":"b","s":"SUNL","t":13.42,"t2":13.94,"a":1.4},{"k":"b","s":"SUNL","t":14.37,"t2":14.5,"a":1.0},{"k":"b","s":"SUNL","t":15.74,"t2":15.87,"a":1.2},{"k":"b","s":"SUNL","t":17.25,"t2":17.38,"a":1.2},{"k":"b","s":"SUNL","t":17.81,"t2":17.94,"a":1.0},{"k":"b","s":"SUNL","t":18.67,"t2":18.8,"a":1.2},{"k":"b","s":"SUNL","t":19.18,"t2":19.31,"a":1.0},{"k":"b","s":"SUNL","t":19.61,"t2":19.74,"a":1.0},{"k":"b","s":"SUNL","t":20.17,"t2":20.3,"a":1.0},{"k":"b","s":"SUNL","t":20.82,"t2":21.12,"a":1.2},{"k":"b","s":"SUNL","t":22.02,"t2":22.15,"a":1.0},{"k":"b","s":"SUNL","t":22.62,"t2":22.75,"a":1.2},{"k":"b","s":"SUNL","t":23.4,"t2":23.74,"a":1.3},{"k":"b","s":"SUNL","t":24.17,"t2":24.3,"a":1.0},{"k":"b","s":"SUNL","t":24.69,"t2":24.82,"a":1.0},{"k":"b","s":"SUNL","t":25.98,"t2":26.19,"a":1.2},{"k":"b","s":"SUNL","t":26.75,"t2":26.88,"a":1.0},{"k":"b","s":"SUNL","t":27.27,"t2":27.4,"a":1.0},{"k":"b","s":"SUNL","t":28.47,"t2":28.6,"a":1.0},{"k":"b","s":"SUNL","t":29.2,"t2":29.33,"a":1.2},{"k":"b","s":"SUNL","t":31.35,"t2":31.48,"a":1.0},{"k":"b","s":"SUNL","t":32.09,"t2":32.22,"a":1.0},{"k":"b","s":"SUNL","t":34.02,"t2":34.15,"a":1.2},{"k":"b","s":"SUNL","t":37.5,"t2":38.36,"a":1.6},{"k":"b","s":"SUNL","t":38.97,"t2":39.1,"a":1.0},{"k":"b","s":"SUNL","t":39.96,"t2":40.09,"a":1.0},{"k":"b","s":"SUNL","t":40.95,"t2":41.08,"a":1.0},{"k":"b","s":"SUNL","t":42.11,"t2":42.41,"a":1.3},{"k":"b","s":"SUNL","t":42.75,"t2":42.97,"a":1.2},{"k":"b","s":"SUNL","t":43.53,"t2":43.66,"a":1.0},{"k":"b","s":"SUNL","t":44.47,"t2":45.25,"a":1.8},{"k":"b","s":"SUNL","t":45.85,"t2":45.98,"a":1.0},{"k":"b","s":"SUNL","t":46.92,"t2":47.05,"a":1.0},{"k":"b","s":"SUNL","t":47.48,"t2":48.0,"a":1.4},{"k":"b","s":"SUNL","t":48.56,"t2":48.69,"a":1.0},{"k":"b","s":"SUNL","t":49.42,"t2":50.15,"a":1.8},{"k":"b","s":"SUNL","t":50.49,"t2":50.62,"a":1.0},{"k":"b","s":"SUNL","t":51.35,"t2":51.78,"a":1.3},{"k":"b","s":"SUNL","t":52.43,"t2":52.56,"a":1.0},{"k":"b","s":"SUNL","t":53.72,"t2":54.36,"a":1.4},{"k":"b","s":"SUNL","t":54.88,"t2":55.01,"a":1.0},{"k":"b","s":"SUNL","t":55.44,"t2":55.57,"a":1.0},{"k":"b","s":"SUNL","t":56.08,"t2":56.21,"a":1.0},{"k":"b","s":"SUNL","t":56.95,"t2":57.08,"a":1.0},{"k":"b","s":"SUNL","t":57.51,"t2":57.64,"a":2.6},{"k":"b","s":"SUNL","t":58.45,"t2":58.58,"a":1.0},{"k":"b","s":"SUNL","t":59.1,"t2":59.23,"a":1.0},{"k":"b","s":"SUNL","t":59.22,"t2":59.35,"a":2.6},{"k":"b","s":"SUNL","t":59.74,"t2":59.87,"a":1.2}
]},
"vconcat": [{
  "title": {"text": "Gal\u00a0 Código\u2003\u2003\u2003\u2003\u2003\u2003\u2003\u2003\u2003\u2003\u2003\u2003\u2003\u2003\u2003\u2003\u2003\u2003\u2003\u2003\u2003\u2003\u2003\u2003\u2003\u2003\u2003\u2003\u2003\u2003\u2003\u2003\u2003\u2003\u2003\u2003\u2003\u2003\u2003\u2003\u2003\u2003\u2003\u2003\u2003\u00a0\u00a0\u00a0Lugar", "anchor": "start", "color": "#ff0000", "font": "Liberation Sans", "fontSize": 12, "fontWeight": "normal", "offset": 31},
  "facet": {"row": {"field": "s", "type": "nominal", "title": null, "sort": "ascending",
    "header": {"labelAngle": 0, "labelAlign": "left", "labelOrient": "left", "labelPadding": 22, "labelFont": "DejaVu Sans", "labelFontSize": 11, "labelColor": "black", "labelBaseline": "middle",
      "labelExpr": "'[\u00a0\u00a0' + {'SUN1':'0.04','SUN2':'0.02','SUN3':'0.05','SUN4':'0.50','SUN5':'0.17','SUN6':'0.35','SUN7':'0.11','SUN8':'0.11','SUN9':'0.02','SUNL':'0.18'}[datum.value] + ']\u00a0' + datum.value"}}},
  "spacing": {"row": 0},
  "spec": {
    "width": 466, "height": 27,
    "layer": [
      {"transform": [{"filter": "datum.k == 'e'"}],
       "mark": {"type": "area", "color": "#0000ff", "interpolate": "linear"},
       "encoding": {
         "x": {"field": "t", "type": "quantitative", "scale": {"domain": [0, 60], "nice": false, "zero": false},
           "axis": {"values": [0,5,10,15,20,25,30,35,40,45,50,55,60], "title": null, "grid": false, "offset": 18,
             "tickSize": -11, "tickColor": "black", "tickWidth": 1, "domainColor": "black", "domainWidth": 1,
             "labelPadding": 15, "labelFont": "DejaVu Sans", "labelColor": "black", "labelFlush": false, "labelOverlap": false, "labelBound": false,
             "labelFontSize": {"condition": {"test": "datum.value % 30 == 0", "value": 13}, "value": 8},
             "labelExpr": "datum.value % 10 ? '' : (floor((959 + datum.value) / 60) + ':' + ((959 + datum.value) % 60 < 10 ? '0' : '') + ((959 + datum.value) % 60))"}},
         "y": {"field": "a", "type": "quantitative", "scale": {"domain": [-13.5, 13.5]}, "axis": null},
         "y2": {"datum": 0}
       }},
      {"transform": [{"filter": "datum.k == 'e'"}],
       "mark": {"type": "area", "color": "#0000ff", "interpolate": "linear"},
       "encoding": {
         "x": {"field": "t", "type": "quantitative"},
         "y": {"field": "a", "type": "quantitative", "scale": {"domain": [-13.5, 13.5], "reverse": true}, "axis": null},
         "y2": {"datum": 0}
       }},
      {"transform": [{"filter": "datum.k == 'b'"}],
       "mark": {"type": "rect", "color": "#0000ff"},
       "encoding": {
         "x": {"field": "t", "type": "quantitative"},
         "x2": {"field": "t2"},
         "y": {"field": "a", "type": "quantitative", "scale": {"domain": [-13.5, 13.5]}, "axis": null},
         "y2": {"datum": 0}
       }},
      {"transform": [{"filter": "datum.k == 'b'"}],
       "mark": {"type": "rect", "color": "#0000ff"},
       "encoding": {
         "x": {"field": "t", "type": "quantitative"},
         "x2": {"field": "t2"},
         "y": {"field": "a", "type": "quantitative", "scale": {"domain": [-13.5, 13.5], "reverse": true}, "axis": null},
         "y2": {"datum": 0}
       }},
      {"transform": [{"filter": "datum.k == 'n'"}],
       "mark": {"type": "text", "align": "left", "baseline": "middle", "dx": 11, "font": "DejaVu Sans", "fontSize": 11, "color": "black"},
       "encoding": {
         "x": {"datum": 60},
         "text": {"field": "l"}
       }}
    ],
    "resolve": {"scale": {"y": "independent"}}
  }
}],
"config": {"view": {"stroke": null}, "axis": {"grid": false}}
}
